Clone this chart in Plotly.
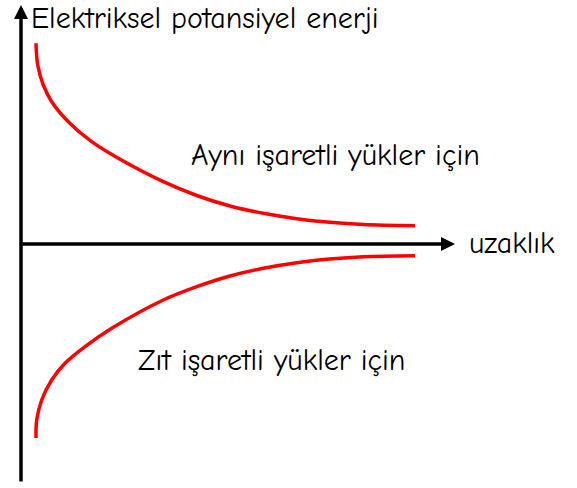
import plotly.graph_objects as go

# uzaklık (r) ve elektriksel potansiyel enerji değerleri (keyfi birim)
r_ayni = [1.5, 1.67, 2.23, 3.07, 4.73, 7.07, 9.73, 14.23, 17.57, 20.9,
          24.23, 27.57, 30.9, 34.23, 39.4]
u_ayni = [20.07, 17.9, 15.9, 14.23, 12.23, 10.23, 8.57, 6.23, 4.85, 3.8,
          3.07, 2.53, 2.17, 1.95, 1.83]

r_zit = [1.5, 1.57, 2.07, 3.07, 4.4, 6.4, 9.07, 14.23, 17.57, 20.9,
         24.23, 27.57, 30.9, 34.23, 39.4]
u_zit = [-19.4, -17.6, -15.6, -13.6, -11.93, -10.27, -8.43, -5.6,
         -4.27, -3.2, -2.43, -1.87, -1.5, -1.27, -1.17]

FONT = "Comic Sans MS, Comic Neue, Noto Sans, sans-serif"
RED = "#ff0000"

fig = go.Figure()

fig.add_trace(go.Scatter(
    x=r_ayni, y=u_ayni, mode="lines",
    line=dict(color=RED, width=3.5, shape="spline", smoothing=1.0),
    hoverinfo="skip", showlegend=False
))
fig.add_trace(go.Scatter(
    x=r_zit, y=u_zit, mode="lines",
    line=dict(color=RED, width=3.5, shape="spline", smoothing=1.0),
    hoverinfo="skip", showlegend=False
))

# eksen okları
fig.add_annotation(
    x=0, y=23.9, ax=0, ay=-23.9,
    xref="x", yref="y", axref="x", ayref="y",
    text="", showarrow=True, arrowhead=2, arrowsize=0.8,
    arrowwidth=3.5, arrowcolor="black"
)
fig.add_annotation(
    x=43.4, y=0, ax=0, ay=0,
    xref="x", yref="y", axref="x", ayref="y",
    text="", showarrow=True, arrowhead=2, arrowsize=0.8,
    arrowwidth=3.5, arrowcolor="black"
)

labels = [
    ("Elektriksel potansiyel enerji", 0.8, 22.6),
    ("Aynı işaretli yükler için", 16.8, 8.9),
    ("uzaklık", 44.6, 0.1),
    ("Zıt işaretli yükler için", 11.5, -11.6),
]
for text, x, y in labels:
    fig.add_annotation(
        x=x, y=y, xref="x", yref="y", text=text, showarrow=False,
        xanchor="left", yanchor="middle",
        font=dict(family=FONT, size=30, color="black")
    )

fig.update_xaxes(range=[-2.1, 55.6], visible=False)
fig.update_yaxes(range=[-24.4, 24.4], visible=False)

fig.update_layout(
    width=577, height=488,
    margin=dict(l=0, r=0, t=0, b=0),
    paper_bgcolor="white", plot_bgcolor="white",
    showlegend=False
)

# sayfa kenar boşluğunu kaldır
fig.write_html(
    "out.html",
    config={"displayModeBar": False},
    post_script="document.body.style.margin='0';"
)
